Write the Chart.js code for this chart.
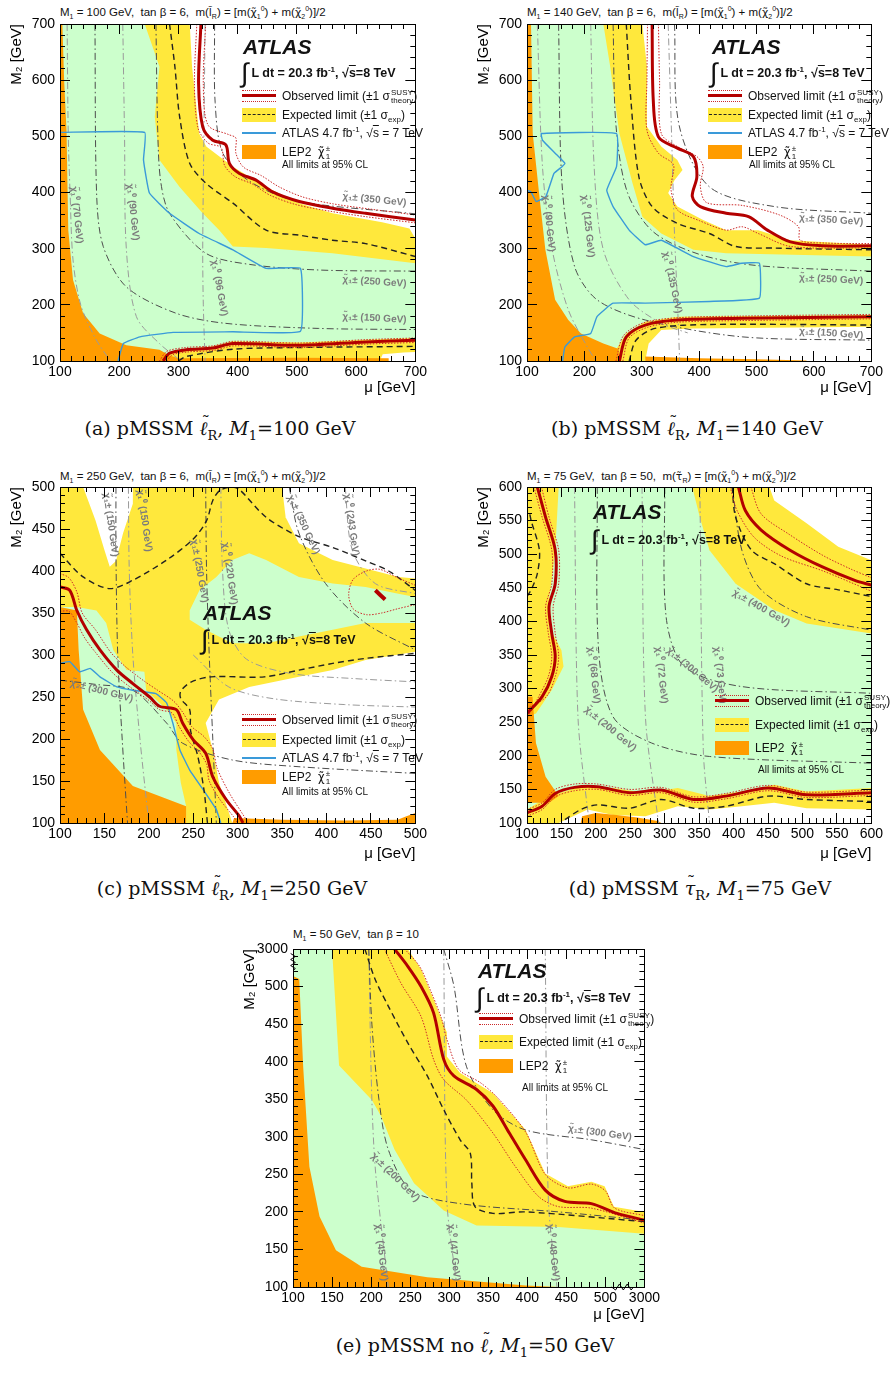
<!DOCTYPE html>
<html>
<head>
<meta charset="utf-8">
<title>pMSSM exclusion limits</title>
<script src="https://cdn.jsdelivr.net/npm/chart.js"></script>
<style>
    body { margin: 0; background: #fff; font-family: "Liberation Sans", Arial, sans-serif; color: #111; }
    #page { position: relative; width: 896px; height: 1374px; overflow: hidden; }
    canvas { position: absolute; }
    .chi { font-family: "DejaVu Sans", sans-serif; font-size: 0.95em; }
    .ptitle { position: absolute; font-size: 11.5px; line-height: 14px; white-space: nowrap; }
    .ptitle sub, .ptitle sup { font-size: 7px; }
    .cap { position: absolute; font-family: "DejaVu Serif", "Liberation Serif", serif; font-size: 19px; line-height: 22px;
           white-space: nowrap; transform: translateX(-50%); }
    .cap sub { font-size: 13px; }
    .tl { position: relative; }
    .tl::after { content: '\02DC'; position: absolute; left: 2px; top: -6px; font-style: normal; font-size: 17px; }
    .atlas { position: absolute; font-weight: bold; font-style: italic; font-size: 21px; line-height: 24px; }
    .lumi { position: absolute; display: flex; align-items: center; font-weight: bold; font-size: 12.5px; white-space: nowrap; height: 26px; }
    .lumi .int { font-size: 27px; font-weight: normal; margin-right: 3px; line-height: 26px; }
    .lumi sup { font-size: 8px; }
    .ov { text-decoration: overline; }
    .li { position: absolute; height: 14px; font-size: 12px; line-height: 14px; white-space: nowrap; }
    .li .t { position: absolute; left: 40px; top: 0; }
    .li sub, .li sup { font-size: 8px; line-height: 8px; }
    .sym { position: absolute; left: 0; top: 0; width: 34px; height: 14px; }
    .obs::before { content: ''; position: absolute; left: 0; right: 0; top: 1px; height: 10px;
                   border-top: 1px dotted #cc2a2a; border-bottom: 1px dotted #cc2a2a; }
    .obs::after { content: ''; position: absolute; left: 0; right: 0; top: 5px; height: 3px; background: #b30000; }
    .exp { background: #ffe83c; }
    .exp::after { content: ''; position: absolute; left: 1px; right: 1px; top: 6px; border-top: 1.5px dashed #222; }
    .a7::after { content: ''; position: absolute; left: 0; right: 0; top: 6px; height: 1.5px; background: #3a9ad9; }
    .lep { background: #ff9c00; }
    .st { display: inline-block; font-size: 8px; line-height: 8px; vertical-align: -3px; margin: -6px 0 -6px 1px; }
    .st span { display: block; }
    .note { position: absolute; font-size: 10px; line-height: 12px; white-space: nowrap; }
</style>
</head>
<body>
<div id="page">
    <!-- panel titles -->
    <div class="ptitle" style="left:60px;top:2px">M<sub>1</sub> = 100 GeV,&nbsp; tan β = 6,&nbsp; m(<span class="chi">l̃</span><sub>R</sub>) = [m(<span class="chi">χ̃</span><sub>1</sub><sup>0</sup>) + m(<span class="chi">χ̃</span><sub>2</sub><sup>0</sup>)]/2</div>
    <div class="ptitle" style="left:527px;top:2px">M<sub>1</sub> = 140 GeV,&nbsp; tan β = 6,&nbsp; m(<span class="chi">l̃</span><sub>R</sub>) = [m(<span class="chi">χ̃</span><sub>1</sub><sup>0</sup>) + m(<span class="chi">χ̃</span><sub>2</sub><sup>0</sup>)]/2</div>
    <div class="ptitle" style="left:60px;top:466px">M<sub>1</sub> = 250 GeV,&nbsp; tan β = 6,&nbsp; m(<span class="chi">l̃</span><sub>R</sub>) = [m(<span class="chi">χ̃</span><sub>1</sub><sup>0</sup>) + m(<span class="chi">χ̃</span><sub>2</sub><sup>0</sup>)]/2</div>
    <div class="ptitle" style="left:527px;top:466px">M<sub>1</sub> = 75 GeV,&nbsp; tan β = 50,&nbsp; m(<span class="chi">τ̃</span><sub>R</sub>) = [m(<span class="chi">χ̃</span><sub>1</sub><sup>0</sup>) + m(<span class="chi">χ̃</span><sub>2</sub><sup>0</sup>)]/2</div>
    <div class="ptitle" style="left:293px;top:927px">M<sub>1</sub> = 50 GeV,&nbsp; tan β = 10</div>

    <canvas id="cA" width="440" height="400" style="left:0;top:0"></canvas>
    <canvas id="cB" width="429" height="400" style="left:467px;top:0"></canvas>
    <canvas id="cC" width="440" height="416" style="left:0;top:450px"></canvas>
    <canvas id="cD" width="429" height="416" style="left:467px;top:450px"></canvas>
    <canvas id="cE" width="440" height="407" style="left:233px;top:920px"></canvas>

    <!-- ATLAS labels -->
    <div class="atlas" style="left:243px;top:35px">ATLAS</div>
    <div class="atlas" style="left:712px;top:35px">ATLAS</div>
    <div class="atlas" style="left:203px;top:601px">ATLAS</div>
    <div class="atlas" style="left:593px;top:500px">ATLAS</div>
    <div class="atlas" style="left:478px;top:959px">ATLAS</div>
    <div class="lumi" style="left:241px;top:60px"><span class="int">∫</span><span>L dt = 20.3 fb<sup>-1</sup>, √<span class="ov">s</span>=8 TeV</span></div>
    <div class="lumi" style="left:710px;top:60px"><span class="int">∫</span><span>L dt = 20.3 fb<sup>-1</sup>, √<span class="ov">s</span>=8 TeV</span></div>
    <div class="lumi" style="left:201px;top:627px"><span class="int">∫</span><span>L dt = 20.3 fb<sup>-1</sup>, √<span class="ov">s</span>=8 TeV</span></div>
    <div class="lumi" style="left:591px;top:527px"><span class="int">∫</span><span>L dt = 20.3 fb<sup>-1</sup>, √<span class="ov">s</span>=8 TeV</span></div>
    <div class="lumi" style="left:476px;top:985px"><span class="int">∫</span><span>L dt = 20.3 fb<sup>-1</sup>, √<span class="ov">s</span>=8 TeV</span></div>

    <!-- captions -->
    <div class="cap" style="left:220px;top:417px">(a) pMSSM <i class="tl">ℓ</i><sub>R</sub>, <i>M</i><sub>1</sub>=100 GeV</div>
    <div class="cap" style="left:687px;top:417px">(b) pMSSM <i class="tl">ℓ</i><sub>R</sub>, <i>M</i><sub>1</sub>=140 GeV</div>
    <div class="cap" style="left:232px;top:877px">(c) pMSSM <i class="tl">ℓ</i><sub>R</sub>, <i>M</i><sub>1</sub>=250 GeV</div>
    <div class="cap" style="left:700px;top:877px">(d) pMSSM <i class="tl">τ</i><sub>R</sub>, <i>M</i><sub>1</sub>=75 GeV</div>
    <div class="cap" style="left:475px;top:1334px">(e) pMSSM no <i class="tl">ℓ</i>, <i>M</i><sub>1</sub>=50 GeV</div>
</div>

<script>
    // ---------- panel (a): M1 = 100 GeV ----------
    const grnA = [[100,100],[700,100],[700,700],[100,700]];
    const yelA = [[243,700],[268,624],[260,535],[268,458],[302,410],[341,363],[369,333],[392,304],[448,301],[560,292],[700,274],[700,700]];
    const whtA = [[319,700],[323,624],[335,505],[347,482],[392,446],[448,410],[504,381],[560,363],[644,347],[690,336],[700,318],[700,700]];
    const yelLowA = [[272,100],[283,113],[313,122],[358,126],[392,135],[504,133],[616,138],[700,141],[700,100]];
    const whtLowA = [[640,100],[645,112],[680,115],[700,116],[700,100]];
    const lepA = [[100,700],[104,700],[107,600],[111,511],[114,333],[122,244],[139,185],[167,149],[212,128],[268,120],[285,110],[300,105],[500,106],[655,105],[655,100],[100,100]];
    const obsA = [[338,700],[334,594],[341,517],[358,493],[380,485],[386,452],[403,434],[431,422],[459,401],[504,384],[560,372],[616,363],[700,351]];
    const obsHiA = [[346,700],[342,594],[350,520],[385,503],[397,497],[397,470],[410,445],[440,430],[470,410],[510,392],[560,380],[620,371],[700,360]];
    const obsLoA = [[331,700],[327,594],[333,515],[350,488],[372,480],[378,448],[396,428],[425,415],[455,395],[500,378],[560,366],[616,357],[700,346]];
    const obsLowA = [[274,100],[285,114],[313,120],[358,123],[392,131],[504,128],[616,134],[700,137]];
    const obsLowHiA = [[268,100],[280,117],[312,124],[358,127],[392,135],[504,132],[616,138],[700,141]];
    const obsLowLoA = [[280,100],[290,111],[315,116],[360,119],[394,127],[504,124],[616,130],[700,133]];
    const expA = [[285,700],[294,624],[302,535],[319,452],[347,416],[392,381],[448,333],[504,324],[560,315],[616,309],[700,286]];
    const expLowA = [[300,100],[313,108],[392,121],[504,124],[700,126]];
    const prevA = [[100,507],[243,507],[241,458],[251,399],[285,363],[335,327],[392,298],[448,265],[506,265],[506,153],[392,152],[291,151],[235,143],[207,131],[198,100]];
    const n70A = [[112,700],[114,500],[117,400],[122,280],[135,200],[160,140],[185,100]];
    const c150A = [[159,700],[162,393],[173,304],[212,232],[296,185],[380,167],[537,158],[700,156]];
    const n90A = [[206,700],[209,500],[212,300],[229,179],[268,131],[302,102]];
    const c250A = [[262,700],[265,511],[270,420],[285,363],[346,292],[420,272],[537,262],[700,260]];
    const n96A = [[345,700],[343,500],[341,300],[342,200],[345,100]];
    const c350A = [[361,700],[362,560],[375,470],[420,420],[500,385],[700,362]];
    const notesA = [['χ̃₁⁰ (70 GeV)',128,360,84],['χ̃₁⁰ (90 GeV)',223,365,84],['χ̃₁⁰ (96 GeV)',369,230,80],
                    ['χ̃₁± (350 GeV)',631,387,6],['χ̃₁± (250 GeV)',631,241,4],['χ̃₁± (150 GeV)',631,176,3]];

    // ---------- panel (b): M1 = 140 GeV ----------
    const grnB = [[100,100],[700,100],[700,700],[100,700]];
    const yelB = [[233,700],[245,624],[261,505],[284,416],[301,357],[334,327],[390,298],[447,292],[700,286],[700,700]];
    const whtB = [[301,700],[309,624],[309,517],[334,482],[362,458],[371,440],[357,422],[346,399],[362,375],[407,351],[447,333],[503,333],[559,315],[700,307],[700,700]];
    const yelLowB = [[250,100],[256,122],[273,149],[306,170],[362,179],[700,182],[700,100]];
    const whtLowB = [[306,100],[312,131],[334,155],[390,158],[700,161],[700,100]];
    const lepB = [[100,700],[107,700],[110,505],[121,399],[132,298],[149,209],[172,173],[194,149],[233,131],[259,122],[262,100],[100,100]];
    const lepStripB = [[306,100],[306,108],[400,105],[500,103],[587,101],[587,100]];
    const obsB = [[318,700],[320,565],[329,499],[362,479],[390,464],[396,428],[388,393],[402,375],[447,363],[486,357],[519,333],[559,312],[615,305],[700,305]];
    const obsHiB = [[329,700],[331,600],[334,505],[365,480],[396,464],[407,446],[402,411],[413,382],[475,377],[540,360],[573,339],[576,315],[620,310],[700,309]];
    const obsLoB = [[310,700],[309,600],[309,511],[329,470],[355,450],[352,420],[351,404],[362,369],[400,350],[447,333],[475,339],[503,327],[559,304],[700,301]];
    const obsLowB = [[261,100],[273,143],[306,164],[362,173],[475,176],[700,179]];
    const obsLowHiB = [[255,100],[268,145],[303,168],[362,177],[475,180],[700,183]];
    const obsLowLoB = [[267,100],[278,141],[310,160],[362,169],[475,172],[700,175]];
    const expB = [[273,700],[281,565],[295,428],[318,375],[362,345],[418,327],[463,304],[531,301],[700,298]];
    const expLowB = [[278,100],[290,137],[323,158],[418,165],[700,164]];
    const prevB = [[100,404],[107,401],[116,384],[133,393],[147,434],[161,446],[166,452],[149,470],[127,493],[125,505],[256,505],[256,446],[239,404],[250,375],[278,333],[306,307],[334,315],[390,286],[447,268],[474,274],[505,274],[505,212],[418,206],[306,203],[250,203],[222,179],[211,149],[183,143],[166,125],[162,100]];
    const n90B = [[118,700],[127,446],[144,298],[172,191],[205,125],[220,100]];
    const c150B = [[155,700],[161,416],[183,268],[222,209],[306,173],[475,143],[700,137]];
    const n125B = [[211,700],[217,446],[233,298],[278,209],[334,167],[380,150]];
    const c250B = [[250,700],[255,520],[275,400],[320,330],[400,290],[500,270],[700,260]];
    const n135B = [[346,700],[352,500],[357,327],[362,209],[366,100]];
    const c350B = [[357,700],[365,520],[418,410],[531,375],[700,363]];
    const notesB = [['χ̃₁⁰ (90 GeV)',138,345,84],['χ̃₁⁰ (125 GeV)',206,340,84],['χ̃₁⁰ (135 GeV)',353,240,78],
                    ['χ̃₁± (350 GeV)',630,351,4],['χ̃₁± (250 GeV)',630,245,3],['χ̃₁± (150 GeV)',630,149,4]];

    // ---------- panel (c): M1 = 250 GeV ----------
    const yelC = [[100,100],[500,100],[500,500],[100,500]];
    const whtC1 = [[126,500],[140,460],[150,425],[156,405],[163,412],[171,445],[182,480],[182,500]];
    const whtC2 = [[350,500],[354,464],[369,433],[407,413],[444,403],[481,393],[500,391],[500,500]];
    const whtC3 = [[264,219],[279,247],[313,262],[369,274],[407,282],[444,294],[500,304],[500,100],[294,100],[279,148],[272,187]];
    const grnC1 = [[100,357],[119,357],[141,353],[152,338],[160,306],[175,282],[195,280],[197,258],[220,235],[231,219],[231,187],[236,148],[242,120],[242,100],[100,100]];
    const grnC2 = [[246,353],[257,377],[276,393],[294,413],[313,421],[332,413],[369,393],[407,385],[444,381],[481,373],[500,369],[500,338],[444,338],[407,330],[369,322],[332,314],[294,314],[264,330],[246,342]];
    const lepC = [[100,357],[119,353],[121,306],[126,235],[145,187],[182,144],[242,120],[242,100],[100,100]];
    const lepStripC = [[294,100],[296,106],[350,104],[420,103],[480,104],[490,108],[500,112],[500,100]];
    const obsC = [[100,381],[111,377],[119,353],[130,330],[145,306],[164,282],[182,266],[201,250],[212,239],[231,235],[238,219],[250,199],[264,183],[272,155],[287,128],[302,108],[306,100]];
    const obsHiC = [[100,397],[110,392],[119,375],[125,350],[140,330],[158,302],[175,285],[196,268],[210,258],[228,245],[238,232],[248,215],[262,203],[272,188],[277,165],[291,135],[306,110],[312,100]];
    const obsLoC = [[100,352],[110,352],[118,340],[128,320],[140,303],[160,278],[180,261],[200,246],[212,235],[226,231],[234,215],[245,197],[257,184],[265,170],[268,150],[280,128],[295,108],[300,100]];
    const obsIslC = [[455,377],[466,366]];
    const obsLoopC = [[500,383],[480,392],[460,402],[445,400],[430,390],[425,372],[430,355],[445,348],[462,350],[480,355],[500,360]];
    const expHiC = [[100,421],[126,393],[156,379],[182,389],[220,413],[250,438],[265,460],[272,484],[280,496],[294,500],[302,497],[332,464],[369,441],[407,428],[444,412],[470,400],[500,377]];
    const expLoC = [[266,100],[262,140],[255,180],[247,210],[246,235],[236,248],[236,257],[248,268],[270,274],[330,274],[369,282],[407,290],[444,296],[500,302]];
    const prevC = [[100,290],[111,292],[122,280],[134,284],[145,274],[164,262],[182,258],[208,254],[220,243],[227,219],[235,187],[246,163],[261,140],[276,116],[281,100]];
    const c150C = [[163,500],[163,420],[165,300],[170,200],[176,100]];
    const n150C = [[177,500],[178,400],[182,300],[190,200],[200,100]];
    const c250C = [[264,500],[265,400],[268,300],[272,200],[276,100]];
    const n220C = [[281,500],[283,400],[290,330],[310,295],[360,278],[430,272],[500,268]];
    const c350C = [[358,500],[369,445],[399,385],[444,338],[500,306]];
    const n243C = [[421,500],[429,425],[455,385],[500,373]];
    const n2C = [[250,300],[290,262],[340,248],[420,241],[500,238]];
    const c2C = [[100,270],[140,265],[182,258],[220,219],[238,195],[294,175],[369,167],[500,159]];
    const notesC = [['χ̃₁± (150 GeV)',157,455,82],['χ̃₁⁰ (150 GeV)',195,460,82],['χ̃₁± (250 GeV)',257,400,80],
                    ['χ̃₁⁰ (220 GeV)',291,397,82],['χ̃₁± (350 GeV)',374,455,65],['χ̃₁⁰ (243 GeV)',428,455,82],
                    ['χ̃₂± (300 GeV)',147,257,15]];

    // ---------- panel (d): M1 = 75 GeV, stau ----------
    const grnD = [[100,100],[600,100],[600,600],[100,600]];
    const yelD1 = [[340,600],[351,555],[365,506],[403,456],[459,417],[506,397],[600,382],[600,600]];
    const whtD1 = [[452,600],[459,580],[506,546],[552,511],[600,491],[600,600]];
    const yelD2 = [[100,600],[146,600],[141,506],[132,432],[132,392],[150,357],[153,333],[136,298],[113,263],[100,258]];
    const yelD3 = [[100,120],[132,140],[178,154],[225,152],[272,145],[319,152],[365,140],[412,147],[459,157],[506,147],[600,152],[600,100],[100,100]];
    const whtD2 = [[146,100],[188,120],[225,112],[272,110],[319,125],[365,120],[412,125],[459,130],[506,122],[600,120],[600,100]];
    const lepD = [[100,288],[108,288],[113,219],[127,169],[146,140],[132,130],[100,130]];
    const lepStripD = [[178,100],[180,110],[200,115],[230,112],[260,108],[290,103],[295,100]];
    const obsD1 = [[115,600],[127,555],[141,506],[141,456],[132,422],[136,382],[141,348],[136,318],[122,288],[100,263]];
    const obsHiD1 = [[121,600],[132,555],[146,506],[146,456],[138,422],[141,382],[146,348],[141,318],[128,288],[100,270]];
    const obsLoD1 = [[110,600],[122,555],[136,506],[136,456],[127,422],[131,382],[136,348],[131,318],[117,288],[100,256]];
    const expD1 = [[100,437],[106,447],[115,471],[118,506],[106,550],[104,560]];
    const obsD2 = [[407,600],[417,565],[440,536],[482,506],[529,481],[576,461],[600,454]];
    const obsHiD2 = [[425,600],[440,560],[480,530],[530,498],[570,478],[600,465]];
    const obsLoD2 = [[395,600],[405,565],[430,525],[470,497],[530,475],[600,445]];
    const expD2 = [[398,600],[403,555],[426,506],[459,486],[506,456],[552,447],[600,437]];
    const obsD3 = [[100,115],[122,125],[141,144],[169,153],[202,154],[249,145],[295,149],[342,135],[389,140],[450,152],[506,142],[600,145]];
    const obsHiD3 = [[100,120],[122,130],[141,150],[169,158],[202,158],[249,150],[295,153],[342,139],[389,144],[450,156],[506,146],[600,149]];
    const obsLoD3 = [[100,110],[122,120],[141,139],[169,148],[202,150],[249,141],[295,145],[342,131],[389,136],[450,148],[506,138],[600,141]];
    const expD3 = [[155,105],[178,120],[202,127],[249,122],[295,135],[342,122],[389,125],[450,140],[506,135],[600,132]];
    const n68D = [[169,600],[174,258],[188,120],[192,100]];
    const n72D = [[267,600],[272,258],[291,100]];
    const n73D = [[351,600],[356,209],[365,100]];
    const c200D = [[202,600],[204,357],[225,258],[281,219],[365,199],[600,189]];
    const c300D = [[300,600],[302,407],[328,333],[412,303],[600,293]];
    const c400D = [[398,600],[412,506],[440,447],[506,407],[600,387]];
    const notesD = [['χ̃₁⁰ (68 GeV)',197,320,84],['χ̃₁⁰ (72 GeV)',295,320,84],['χ̃₁⁰ (73 GeV)',380,320,84],
                    ['χ̃₁± (300 GeV)',340,328,40],['χ̃₁± (200 GeV)',221,240,40],['χ̃₁± (400 GeV)',440,420,30]];

    // ---------- panel (e): M1 = 50 GeV, no sleptons (550 on both axes stands for 3000) ----------
    const grnE = [[100,100],[550,100],[550,550],[100,550]];
    const yelE = [[150,550],[159,395],[180,372],[201,349],[213,327],[230,283],[255,238],[293,202],[335,182],[440,180],[550,171],[550,550]];
    const whtE = [[247,550],[264,523],[280,483],[297,439],[297,407],[314,385],[356,358],[398,309],[423,251],[452,234],[482,240],[499,234],[511,207],[550,200],[550,550]];
    const lepE = [[100,514],[108,510],[113,394],[121,260],[134,194],[155,149],[188,127],[272,113],[398,102],[440,100],[100,100]];
    const obsE = [[230,550],[247,527],[264,500],[280,465],[293,403],[306,381],[335,363],[356,341],[377,305],[398,269],[423,229],[448,214],[482,211],[515,198],[550,189]];
    const obsHiE = [[243,550],[262,527],[276,495],[290,458],[297,430],[312,390],[340,372],[362,352],[398,306],[423,250],[452,232],[482,237],[500,228],[512,205],[550,195]];
    const obsLoE = [[217,550],[238,505],[264,460],[280,403],[293,376],[322,349],[356,305],[385,260],[415,220],[440,207],[482,205],[550,185]];
    const expE = [[192,550],[205,510],[222,474],[247,425],[272,381],[293,336],[314,296],[327,278],[329,238],[333,207],[356,198],[398,200],[550,187]];
    const n45E = [[197,550],[201,349],[206,250],[222,100]];
    const n47E = [[293,550],[297,216],[310,100]];
    const n48E = [[423,550],[427,216],[438,100]];
    const c300E = [[293,550],[306,501],[322,394],[356,336],[398,309],[482,296],[550,283]];
    const c200E = [[197,550],[201,450],[210,350],[222,283],[251,229],[314,211],[440,200],[550,189]];
    const brkYE = [[97,544],[103,540],[97,536],[103,532],[97,528],[103,524],[100,521]];
    const brkXE = [[508,100],[513,96],[518,104],[523,96],[528,104],[533,96],[536,100]];
    const notesE = [['χ̃₁± (300 GeV)',493,305,8],['χ̃₁± (200 GeV)',231,246,45],
                    ['χ̃₁⁰ (45 GeV)',213,146,84],['χ̃₁⁰ (47 GeV)',306,146,84],['χ̃₁⁰ (48 GeV)',433,146,84]];

    // ---------- helpers ----------
    const FONT = '"Liberation Sans", Arial, Helvetica, sans-serif';
    const COL = {green: '#ccffcc', yellow: '#ffe83c', orange: '#ff9c00', white: '#ffffff', red: '#b30000',
                 redDot: '#cc2a2a', blue: '#3a9ad9', dark: '#4d4d4d', light: '#9a9a9a', dash: '#222'};
    const xy = pts => pts.map(([x, y]) => ({x, y}));

    const area = (pts, color) => ({data: xy(pts), fill: 'shape', backgroundColor: color,
        borderColor: 'rgba(0,0,0,0)', borderWidth: 0, pointRadius: 0, tension: 0});
    const curve = (pts, color, width, dash, extra) => Object.assign({data: xy(pts), fill: false, borderColor: color,
        borderWidth: width, borderDash: dash, pointRadius: 0, tension: 0.3}, extra || {});
    const obs = pts => curve(pts, COL.red, 3, []);
    const band = pts => curve(pts, COL.redDot, 1, [1.5, 1.5]);
    const exp = pts => curve(pts, COL.dash, 1.4, [6, 4]);
    const prev = pts => curve(pts, COL.blue, 1.4, [], {tension: 0.1});
    const chg = pts => curve(pts, COL.dark, 1, [7, 3, 1.5, 3]);
    const neu = pts => curve(pts, COL.light, 1, [7, 3, 1.5, 3]);

    // rotated grey labels for the mass contours, placed through the chart scales
    function notesPlugin(items) {
        return {
            id: 'contourNotes',
            afterDatasetsDraw(chart) {
                const {ctx, scales} = chart;
                ctx.save();
                ctx.font = 'bold 10px ' + FONT;
                ctx.fillStyle = '#7c7c7c';
                ctx.textAlign = 'center';
                ctx.textBaseline = 'middle';
                items.forEach(([text, vx, vy, deg]) => {
                    ctx.save();
                    ctx.translate(scales.x.getPixelForValue(vx), scales.y.getPixelForValue(vy));
                    ctx.rotate(deg * Math.PI / 180);
                    ctx.fillText(text, 0, 0);
                    ctx.restore();
                });
                ctx.restore();
            }
        };
    }

    // ROOT style frame: major + minor ticks pointing inwards on all four sides
    function scaleSet(box, xr, yr, alt) {
        const tickFont = {family: FONT, size: 14};
        const label = v => (alt && v === alt[0]) ? alt[1] : String(v);
        const ax = (pos, r, step, len, labels, size, weight, border) => ({
            type: 'linear', position: pos, min: r[0], max: r[1], weight: weight,
            ticks: {stepSize: step, autoSkip: false, maxRotation: 0, maxTicksLimit: 1000, display: labels,
                    padding: pos === 'left' ? 15 : 13, color: '#000', font: tickFont, callback: label},
            grid: {drawOnChartArea: false, tickLength: len, color: '#000', lineWidth: 1, z: 1},
            border: {display: border, color: '#000', width: 1, z: 1},
            afterFit: s => { if (s.isHorizontal()) s.height = size; else s.width = size; }
        });
        const sc = {
            x: ax('bottom', xr, xr[2], -10, true, box.h - box.B, 1, true),
            xm: ax('bottom', xr, xr[3], -5, false, 0, 0, false),
            xt: ax('top', xr, xr[2], -10, false, 0, 1, true),
            xtm: ax('top', xr, xr[3], -5, false, 0, 0, false),
            y: ax('left', yr, yr[2], -10, true, box.L, 1, true),
            ym: ax('left', yr, yr[3], -5, false, 0, 0, false),
            yr: ax('right', yr, yr[2], -10, false, 0, 1, true),
            yrm: ax('right', yr, yr[3], -5, false, 0, 0, false)
        };
        sc.x.title = {display: true, text: 'μ [GeV]', align: 'end', color: '#000',
                      font: {family: FONT, size: 15}, padding: {top: 0, bottom: 3}};
        sc.y.title = {display: true, text: 'M₂ [GeV]', align: 'end', color: '#000',
                      font: {family: FONT, size: 15}, padding: {top: 8, bottom: 0}};
        return sc;
    }

    function drawPanel(id, box, xr, yr, layers, notes, alt) {
        const datasets = layers.map((d, i) => Object.assign(d, {order: layers.length - i}));
        new Chart(document.getElementById(id), {
            type: 'line',
            data: {datasets},
            options: {
                responsive: false,
                animation: false,
                events: [],
                layout: {padding: {left: 0, top: box.T, right: box.w - box.R, bottom: 0}},
                plugins: {legend: {display: false}, tooltip: {enabled: false}},
                scales: scaleSet(box, xr, yr, alt)
            },
            plugins: [notesPlugin(notes)]
        });
    }

    drawPanel('cA', {w: 440, h: 400, L: 60, T: 24, R: 417, B: 361}, [100, 700, 100, 20], [100, 700, 100, 20], [
        area(grnA, COL.green), area(yelA, COL.yellow), area(whtA, COL.white),
        area(yelLowA, COL.yellow), area(whtLowA, COL.white), area(lepA, COL.orange),
        neu(n70A), chg(c150A), neu(n90A), chg(c250A), neu(n96A), chg(c350A),
        prev(prevA), exp(expA), exp(expLowA),
        band(obsHiA), band(obsLoA), band(obsLowHiA), band(obsLowLoA), obs(obsA), obs(obsLowA)
    ], notesA);

    drawPanel('cB', {w: 429, h: 400, L: 60, T: 24, R: 417, B: 361}, [100, 700, 100, 20], [100, 700, 100, 20], [
        area(grnB, COL.green), area(yelB, COL.yellow), area(whtB, COL.white),
        area(yelLowB, COL.yellow), area(whtLowB, COL.white), area(lepB, COL.orange), area(lepStripB, COL.orange),
        neu(n90B), chg(c150B), neu(n125B), chg(c250B), neu(n135B), chg(c350B),
        prev(prevB), exp(expB), exp(expLowB),
        band(obsHiB), band(obsLoB), band(obsLowHiB), band(obsLowLoB), obs(obsB), obs(obsLowB)
    ], notesB);

    drawPanel('cC', {w: 440, h: 416, L: 60, T: 37, R: 417, B: 373}, [100, 500, 50, 10], [100, 500, 50, 10], [
        area(yelC, COL.yellow), area(whtC1, COL.white), area(whtC2, COL.white), area(whtC3, COL.white),
        area(grnC1, COL.green), area(grnC2, COL.green), area(lepC, COL.orange), area(lepStripC, COL.orange),
        chg(c150C), neu(n150C), chg(c250C), neu(n220C), chg(c350C), neu(n243C), neu(n2C), chg(c2C),
        prev(prevC), exp(expHiC), exp(expLoC),
        band(obsHiC), band(obsLoC), band(obsLoopC), obs(obsC), curve(obsIslC, COL.red, 4, [])
    ], notesC);

    drawPanel('cD', {w: 429, h: 416, L: 60, T: 37, R: 417, B: 373}, [100, 600, 50, 10], [100, 600, 50, 10], [
        area(grnD, COL.green), area(yelD1, COL.yellow), area(whtD1, COL.white), area(yelD2, COL.yellow),
        area(yelD3, COL.yellow), area(whtD2, COL.white), area(lepD, COL.orange), area(lepStripD, COL.orange),
        neu(n68D), neu(n72D), neu(n73D), chg(c200D), chg(c300D), chg(c400D),
        exp(expD1), exp(expD2), exp(expD3),
        band(obsHiD1), band(obsLoD1), band(obsHiD2), band(obsLoD2), band(obsHiD3), band(obsLoD3),
        obs(obsD1), obs(obsD2), obs(obsD3)
    ], notesD);

    drawPanel('cE', {w: 440, h: 407, L: 60, T: 29, R: 418, B: 367}, [100, 550, 50, 10], [100, 550, 50, 10], [
        area(grnE, COL.green), area(yelE, COL.yellow), area(whtE, COL.white), area(lepE, COL.orange),
        neu(n45E), neu(n47E), neu(n48E), chg(c300E), chg(c200E),
        exp(expE), band(obsHiE), band(obsLoE), obs(obsE),
        curve(brkYE, '#000', 1, [], {tension: 0, clip: false}), curve(brkXE, '#000', 1, [], {tension: 0, clip: false})
    ], notesE, [550, '3000']);

    // ---------- legends (HTML text over the plots) ----------
    const ENTRY = {
        obs: 'Observed limit (±1 σ<span class="st"><span>SUSY</span><span>theory</span></span>)',
        exp: 'Expected limit (±1 σ<sub>exp</sub>)',
        a7: 'ATLAS 4.7 fb<sup>-1</sup>, √<span class="ov">s</span> = 7 TeV',
        lep: 'LEP2 &nbsp;<span class="chi">χ̃</span><span class="st"><span>±</span><span>1</span></span>'
    };
    function legend(left, tops, kinds, noteLeft, noteTop) {
        const page = document.getElementById('page');
        kinds.forEach((k, i) => {
            const el = document.createElement('div');
            el.className = 'li';
            el.style.left = left + 'px';
            el.style.top = tops[i] + 'px';
            el.innerHTML = '<span class="sym ' + k + '"></span><span class="t">' + ENTRY[k] + '</span>';
            page.appendChild(el);
        });
        const n = document.createElement('div');
        n.className = 'note';
        n.style.left = noteLeft + 'px';
        n.style.top = noteTop + 'px';
        n.textContent = 'All limits at 95% CL';
        page.appendChild(n);
    }
    legend(242, [89, 108, 126, 145], ['obs', 'exp', 'a7', 'lep'], 282, 159);
    legend(708, [89, 108, 126, 145], ['obs', 'exp', 'a7', 'lep'], 749, 159);
    legend(242, [713, 733, 751, 770], ['obs', 'exp', 'a7', 'lep'], 282, 786);
    legend(715, [694, 718, 741], ['obs', 'exp', 'lep'], 758, 764);
    legend(479, [1012, 1035, 1059], ['obs', 'exp', 'lep'], 522, 1082);
</script>
</body>
</html>
